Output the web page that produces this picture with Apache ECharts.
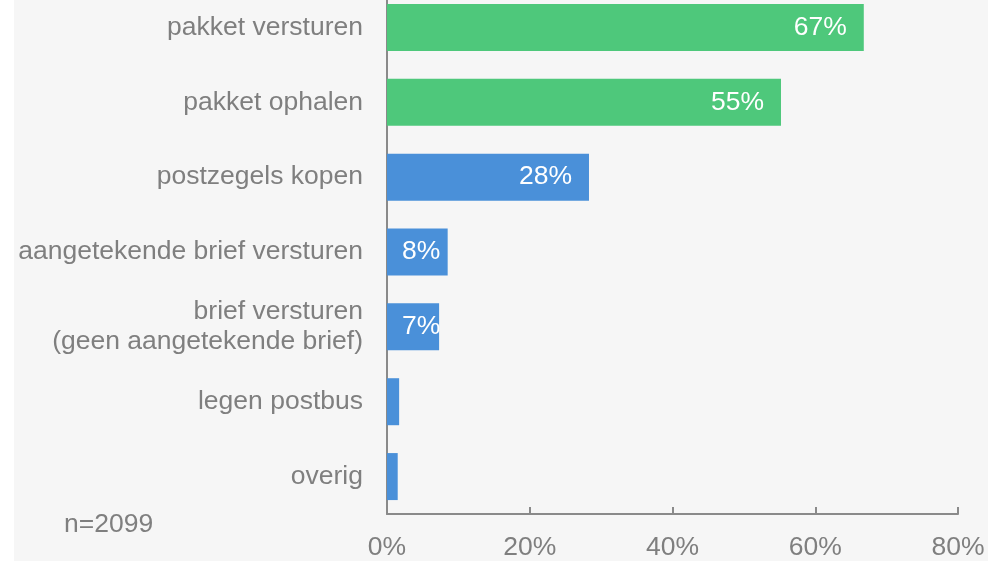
<!DOCTYPE html>
<html>
<head>
<meta charset="utf-8">
<script src="https://cdn.jsdelivr.net/npm/echarts@6/dist/echarts.min.js"></script>
<style>
  html, body { margin: 0; padding: 0; background: #ffffff; overflow: hidden; }
  #main { position: absolute; left: 14px; top: -10px; width: 974px; height: 571px; background: #f6f6f6; }
</style>
</head>
<body>
<div id="main"></div>
<script>
var categories = ['pakket versturen', 'pakket ophalen', 'postzegels kopen',
  'aangetekende brief versturen', 'brief versturen\n(geen aangetekende brief)',
  'legen postbus', 'overig'];
var values = [66.8, 55.2, 28.3, 8.5, 7.3, 1.7, 1.5];
var valueLabels = ['67%', '55%', '28%', '8%', '7%', '', ''];
var barColors = ['#4ec87b', '#4ec87b', '#4a90d9', '#4a90d9', '#4a90d9', '#4a90d9', '#4a90d9'];
var xTicks = [0, 20, 40, 60, 80];
var sampleNote = 'n=2099';

var myChart = echarts.init(document.getElementById('main'));
var font = '"Liberation Sans", Arial, sans-serif';
var fs = 26.5;

var seriesData = values.map(function (v, i) {
  return {
    value: v,
    itemStyle: { color: barColors[i] },
    label: {
      show: valueLabels[i] !== '',
      formatter: valueLabels[i],
      position: v >= 20 ? 'insideRight' : 'insideLeft',
      distance: v >= 20 ? 17 : 15
    }
  };
});

var option = {
  animation: false,
  textStyle: { fontFamily: font },
  grid: { left: 373, right: 30, top: 0, bottom: 45, containLabel: false },
  xAxis: {
    type: 'value',
    min: xTicks[0],
    max: xTicks[xTicks.length - 1],
    interval: 20,
    axisLine: { show: true, lineStyle: { color: '#8a8a8a', width: 2 } },
    axisTick: { show: true, inside: true, length: 7, lineStyle: { color: '#8a8a8a', width: 2 } },
    splitLine: { show: false },
    axisLabel: { formatter: '{value}%', color: '#7f7f7f', fontSize: fs, margin: 20, fontFamily: font }
  },
  yAxis: {
    type: 'category',
    inverse: true,
    data: categories,
    axisLine: { show: true, lineStyle: { color: '#8a8a8a', width: 2 } },
    axisTick: { show: false },
    axisLabel: { color: '#7f7f7f', fontSize: fs, margin: 24, lineHeight: 30, fontFamily: font, align: 'right', padding: [4, 0, 0, 0] }
  },
  series: [{
    type: 'bar',
    data: seriesData,
    barWidth: 47,
    label: { color: '#ffffff', fontSize: fs, fontFamily: font }
  }],
  graphic: [{
    type: 'text',
    left: 50,
    top: 521,
    style: { text: sampleNote, fill: '#7f7f7f', fontSize: fs, fontFamily: font }
  }]
};
myChart.setOption(option);
</script>
</body>
</html>
